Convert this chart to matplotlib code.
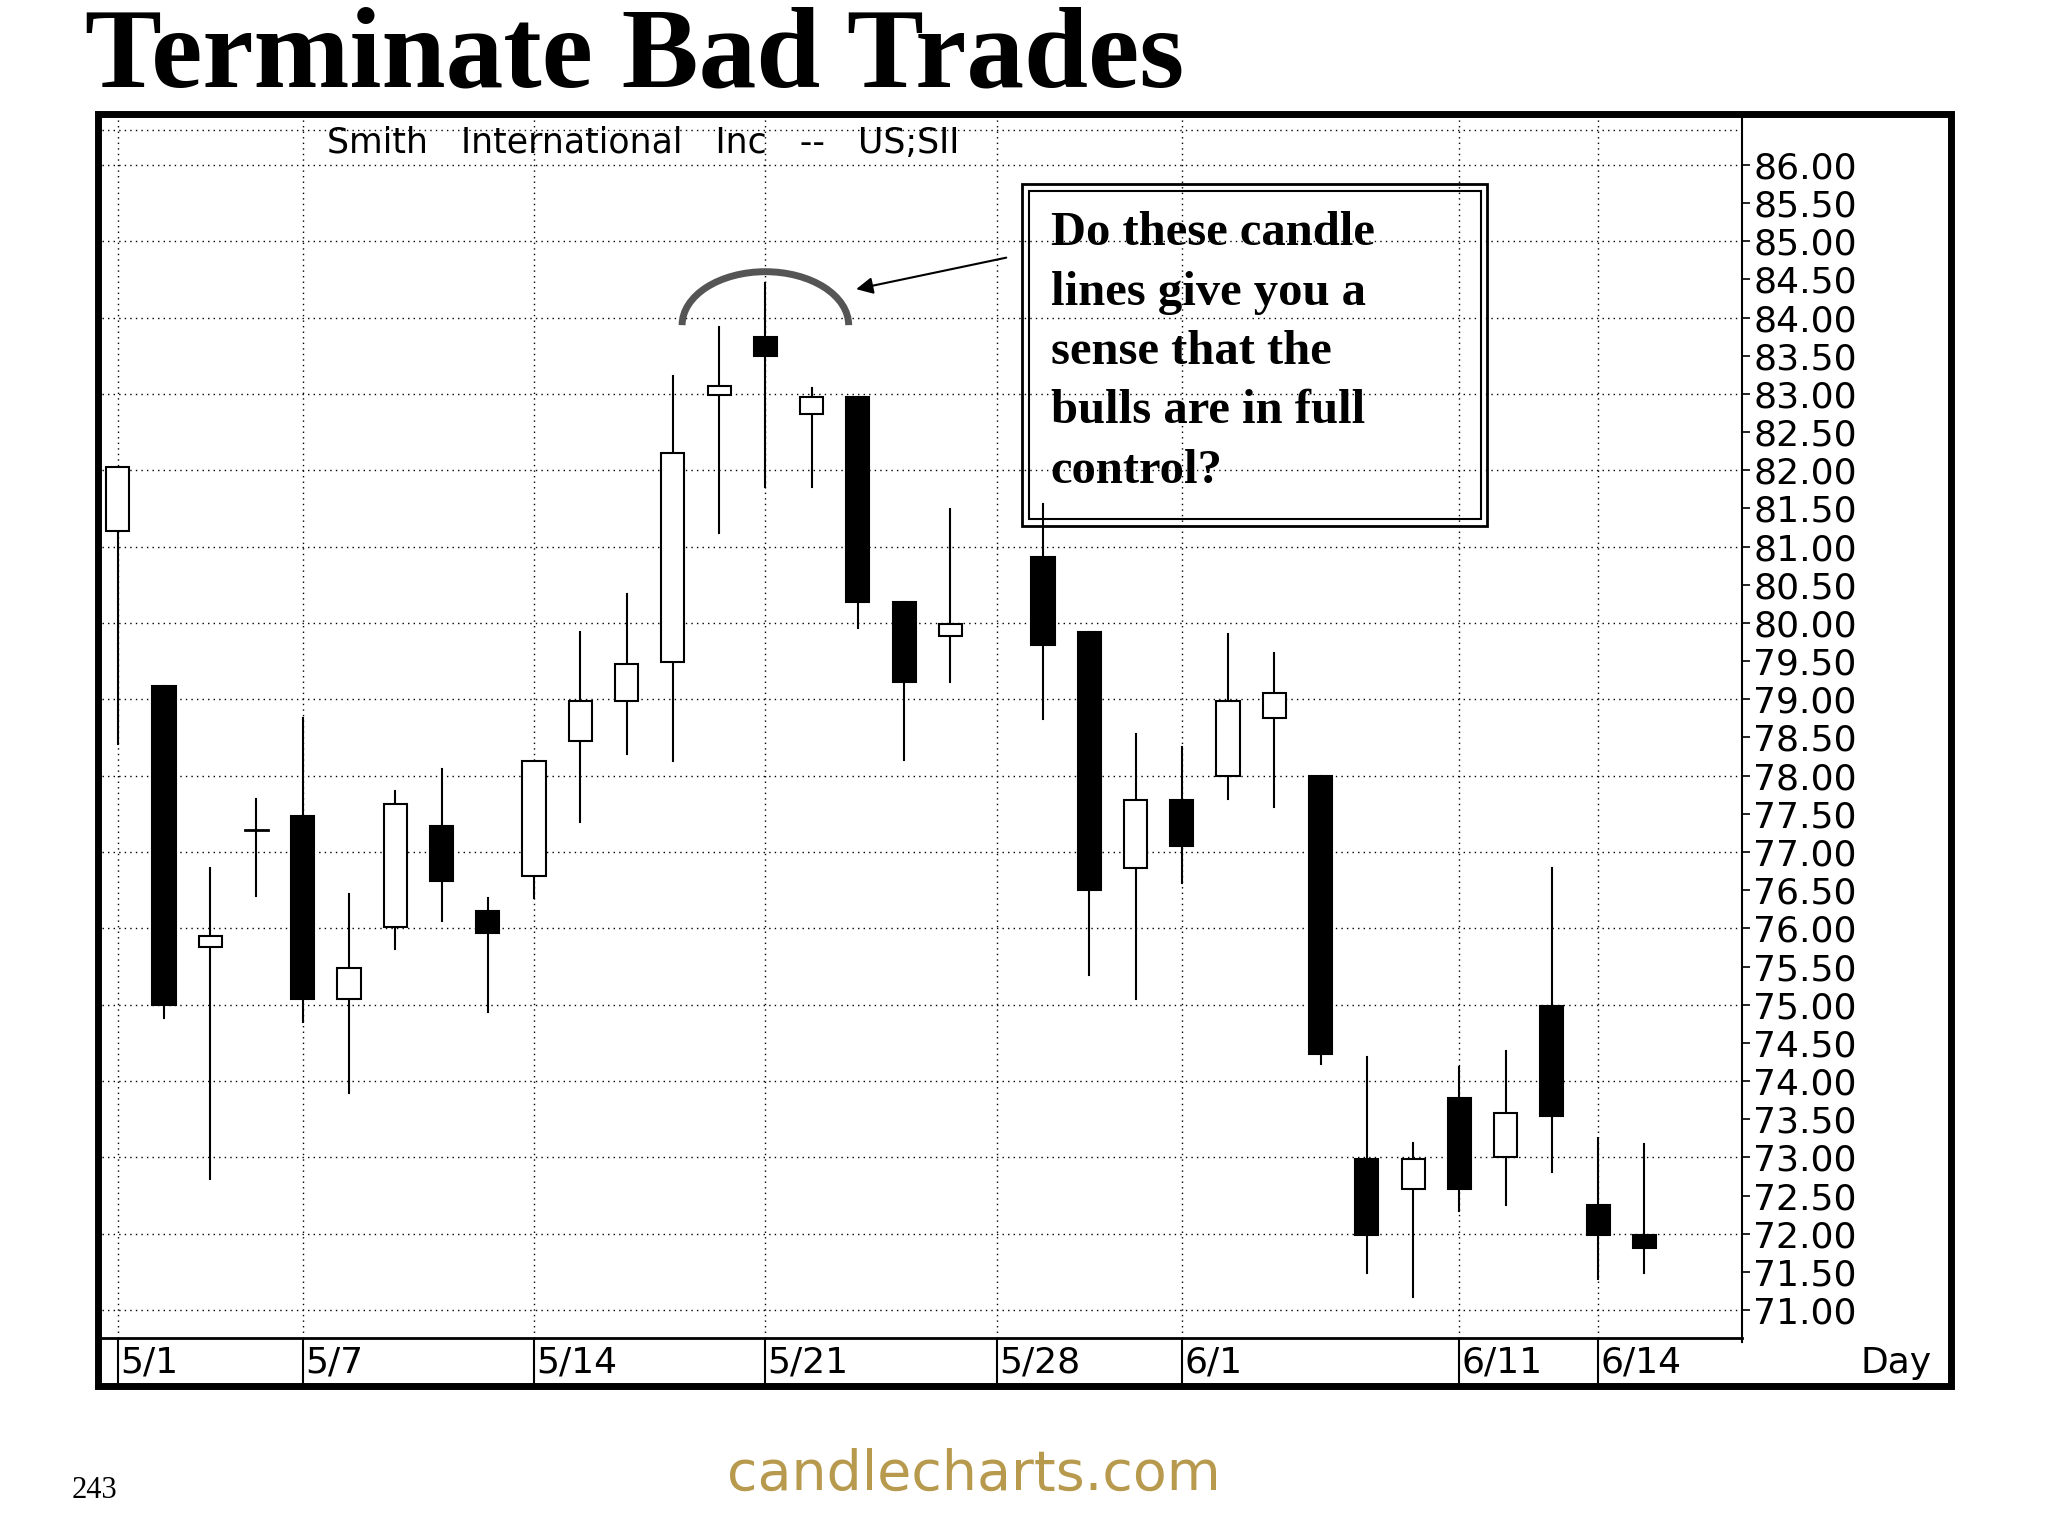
import matplotlib
matplotlib.use("Agg")
import matplotlib.pyplot as plt
from matplotlib.patches import Rectangle, Arc, FancyArrowPatch

slots = list(range(19)) + list(range(20, 34))
opens  = [81.2,79.18,75.75,77.29,77.47,75.08,76.02,77.34,76.23,76.69,78.45,78.98,79.49,82.99,83.74,82.74,82.96,80.28,79.83,80.87,79.88,76.79,77.68,77.99,78.76,77.99,72.98,72.59,73.78,73.0,74.98,72.38,71.99]
closes = [82.04,75.0,75.9,77.29,75.08,75.48,77.63,76.62,75.94,78.19,78.98,79.46,82.22,83.1,83.49,82.96,80.28,79.23,79.98,79.71,76.5,77.68,77.08,78.98,79.08,74.35,71.99,72.98,72.59,73.58,73.54,71.99,71.82]
highs  = [82.04,79.18,76.79,77.7,78.76,76.45,77.8,78.09,76.4,78.19,79.88,80.38,83.23,83.88,84.45,83.08,82.96,80.28,81.49,81.56,79.88,78.55,78.38,79.85,79.61,77.99,74.31,73.19,74.18,74.4,76.79,73.25,73.17]
lows   = [78.41,74.83,72.72,76.43,74.77,73.84,75.73,76.09,74.9,76.4,77.39,78.28,78.19,81.18,81.78,81.78,79.93,78.21,79.23,78.74,75.39,75.08,76.6,77.7,77.59,74.23,71.48,71.17,72.3,72.38,72.81,71.41,71.48]
date_labels = ["5/1","5/7","5/14","5/21","5/28","6/1","6/11","6/14"]
date_slots = [0,4,9,14,19,23,29,32]
price_ticks = [71+0.5*i for i in range(31)]

W, H = 1567, 1177
def fx(x): return x / W
def fy(y): return 1 - y / H

fig = plt.figure(figsize=(20.48, 15.36), dpi=100)
fig.patch.set_facecolor("white")

fig.add_artist(Rectangle((fx(75), fy(1062)), fx(1493)-fx(75), fy(87)-fy(1062),
                         transform=fig.transFigure, fill=False, lw=5, color="black"))

ax = fig.add_axes([fx(78), fy(1025), fx(1333)-fx(78), fy(90)-fy(1025)])
x0 = -0.34; x1 = (1333-90)/35.4
ax.set_xlim(x0, x1)
ax.set_ylim(70.64, 86.62)
for s in ax.spines.values():
    s.set_visible(False)
ax.spines["right"].set_visible(True); ax.spines["right"].set_linewidth(1.5)
ax.spines["bottom"].set_visible(True); ax.spines["bottom"].set_linewidth(2)
ax.yaxis.tick_right()
ax.set_yticks(price_ticks)
ax.set_yticklabels([f"{v:.2f}" for v in price_ticks], fontsize=26, family="DejaVu Sans")
ax.tick_params(axis="y", direction="out", length=6, width=1.2, pad=2)
ax.set_xticks([])
for v in range(71, 87):
    ax.axhline(v, color="black", ls=(0, (1, 3)), lw=1)
ax.axhline(86.45, color="black", ls=(0, (1, 3)), lw=1)
for s in date_slots:
    ax.axvline(s, color="black", ls=(0, (1, 3)), lw=1)

bw = 0.5
for s, o, c, h, l in zip(slots, opens, closes, highs, lows):
    top, bot = max(o, c), min(o, c)
    ax.plot([s, s], [l, h], color="black", lw=1.5, zorder=2)
    if abs(c - o) < 0.03:
        ax.plot([s - bw/2, s + bw/2], [c, c], color="black", lw=2, zorder=3)
    else:
        ax.add_patch(Rectangle((s - bw/2, bot), bw, top - bot,
                               facecolor="white" if c > o else "black",
                               edgecolor="black", lw=1.5, zorder=3))

ax.text(0.137, 0.993, "Smith   International   Inc   --   US;SII", transform=ax.transAxes,
        fontsize=25, va="top", ha="left", family="DejaVu Sans")

ax.add_patch(Arc((14, 83.9), 3.6, 1.4, theta1=0, theta2=180, lw=5, color="#555555", zorder=4))

dax = fig.add_axes([fx(78), fy(1060), fx(1490)-fx(78), fy(1025)-fy(1060)])
dax.set_xlim(x0, x0 + (1490-78)/35.4)
dax.set_ylim(0, 1)
dax.axis("off")
for lab, s in zip(date_labels, date_slots):
    dax.plot([s, s], [0, 1], color="black", lw=1.5)
    dax.text(s + 0.05, 0.45, lab, fontsize=26, va="center", ha="left", family="DejaVu Sans")
dax.text(x0 + (1478-78)/35.4, 0.45, "Day", fontsize=26, va="center", ha="right", family="DejaVu Sans")
dax.plot([(1333-90)/35.4]*2, [0.9, 1], color="black", lw=1.5)

fig.text(fx(65), fy(45), "Terminate Bad Trades", fontsize=83, fontweight="bold",
         family="Liberation Serif", va="center", ha="left")

fig.add_artist(Rectangle((fx(782), fy(403)), fx(1138)-fx(782), fy(141)-fy(403),
                         transform=fig.transFigure, fill=False, lw=2, color="black"))
fig.add_artist(Rectangle((fx(787), fy(398)), fx(1133)-fx(787), fy(146)-fy(398),
                         transform=fig.transFigure, fill=False, lw=1.5, color="black"))
fig.text(fx(804), fy(162), "Do these candle\nlines give you a\nsense that the\nbulls are in full\ncontrol?",
         fontsize=35, fontweight="bold", family="Liberation Serif", va="top", ha="left",
         linespacing=1.45)
fig.add_artist(FancyArrowPatch((fx(772), fy(197)), (fx(653), fy(222)), transform=fig.transFigure,
                               arrowstyle="-|>", mutation_scale=25, lw=1.5, color="black"))

fig.text(fx(55), fy(1142), "243", fontsize=22, family="Liberation Serif", va="center")
fig.text(fx(745), fy(1130), "candlecharts.com", fontsize=40, family="DejaVu Sans",
         color="#b89a4e", va="center", ha="center")

fig.savefig("out.png", dpi=100)
